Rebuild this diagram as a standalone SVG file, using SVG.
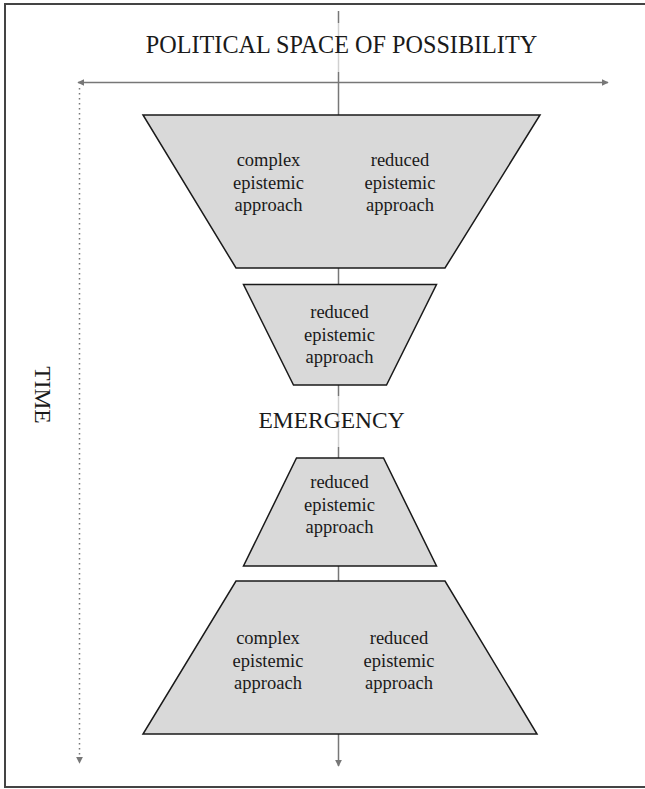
<svg xmlns="http://www.w3.org/2000/svg" width="645" height="789" viewBox="0 0 645 789">
<defs>
<style>
.t{font-family:"Liberation Serif","Times New Roman",serif;fill:#1a1a1a}
.big{font-size:23.5px}
.ttl{font-size:24.2px}
.lab{font-size:18.5px;text-anchor:middle}
.trap{fill:#d9d9d9;stroke:#1a1a1a;stroke-width:1.5;stroke-linejoin:miter}
.ax{stroke:#777;stroke-width:1.5;fill:none}
</style>
<marker id="ah" viewBox="0 0 10 10" refX="9" refY="5" markerWidth="7" markerHeight="7" markerUnits="userSpaceOnUse" orient="auto-start-reverse">
<path d="M0,0 L10,5 L0,10 z" fill="#777"/>
</marker>
</defs>
<rect x="0" y="0" width="645" height="789" fill="#fff"/>
<rect x="5" y="4" width="700" height="783" fill="none" stroke="#444" stroke-width="2"/>
<g id="connectors">
<line class="ax" x1="338.5" y1="11" x2="338.5" y2="23"/>
<line x1="338.5" y1="23" x2="338.5" y2="72" stroke="#d0d0d0" stroke-width="1.5"/>
<line class="ax" x1="338.5" y1="72" x2="338.5" y2="396"/>
<line x1="338.5" y1="396" x2="338.5" y2="447" stroke="#d0d0d0" stroke-width="1.5"/>
<line class="ax" x1="338.5" y1="447" x2="338.5" y2="766" marker-end="url(#ah)"/>
<line class="ax" x1="78" y1="82.5" x2="608" y2="82.5" marker-start="url(#ah)" marker-end="url(#ah)"/>
<line x1="79.5" y1="88" x2="79.5" y2="763" stroke="#777" stroke-width="1.5" stroke-dasharray="1.5 3.5" marker-end="url(#ah)"/>
</g>
<g id="title"><text class="t ttl" x="341.5" y="53" text-anchor="middle">POLITICAL SPACE OF POSSIBILITY</text></g>
<g id="time"><text class="t big" transform="translate(35,395) rotate(90)" text-anchor="middle">TIME</text></g>
<g id="emergency"><text class="t big" x="331.5" y="428" text-anchor="middle">EMERGENCY</text></g>
<g id="trap1">
<polygon class="trap" points="143,115 540,115 445,268 236,268"/>
<text class="t lab" x="268.5" y="166">complex</text>
<text class="t lab" x="268.5" y="188.5">epistemic</text>
<text class="t lab" x="268.5" y="211">approach</text>
<text class="t lab" x="400" y="166">reduced</text>
<text class="t lab" x="400" y="188.5">epistemic</text>
<text class="t lab" x="400" y="211">approach</text>
</g>
<g id="trap2">
<polygon class="trap" points="243.5,284.5 436.5,284.5 386.5,385 293.5,385"/>
<text class="t lab" x="339.5" y="318">reduced</text>
<text class="t lab" x="339.5" y="340.5">epistemic</text>
<text class="t lab" x="339.5" y="363">approach</text>
</g>
<g id="trap3">
<polygon class="trap" points="296.5,458 383.5,458 436.5,566 243.5,566"/>
<text class="t lab" x="339.5" y="488">reduced</text>
<text class="t lab" x="339.5" y="510.5">epistemic</text>
<text class="t lab" x="339.5" y="533">approach</text>
</g>
<g id="trap4">
<polygon class="trap" points="236,581 445,581 537,734 143,734"/>
<text class="t lab" x="268" y="644">complex</text>
<text class="t lab" x="268" y="666.5">epistemic</text>
<text class="t lab" x="268" y="689">approach</text>
<text class="t lab" x="399" y="644">reduced</text>
<text class="t lab" x="399" y="666.5">epistemic</text>
<text class="t lab" x="399" y="689">approach</text>
</g>
</svg>
